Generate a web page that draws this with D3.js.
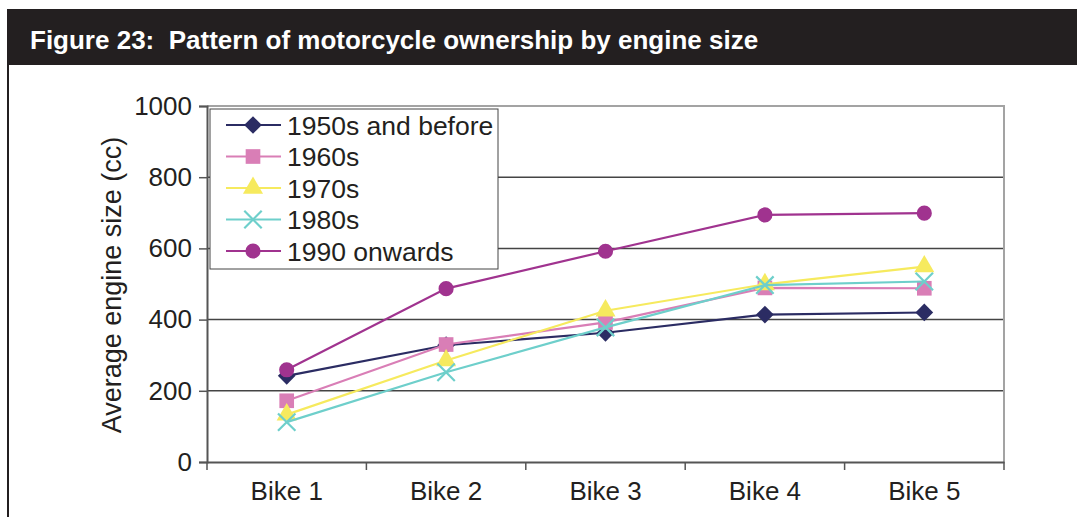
<html>
<head>
<script src="https://d3js.org/d3.v7.min.js"></script>
<style>
  body { margin: 0; background: #fff; }
  svg { font-family: "Liberation Sans", Arial, sans-serif; display: block; }
</style>
</head>
<body>
<svg id="chart"></svg>
<script>
const width = 1077, height = 517;

// data
const categories = ["Bike 1", "Bike 2", "Bike 3", "Bike 4", "Bike 5"];
const seriesNames = ["1950s and before", "1960s", "1970s", "1980s", "1990 onwards"];
const s1950 = [242, 328, 363, 414, 420];
const s1960 = [172, 330, 392, 489, 488];
const s1970 = [133, 285, 425, 499, 549];
const s1980 = [112, 252, 378, 497, 507];
const s1990 = [259, 487, 592, 694, 699];
const yTicks = [0, 200, 400, 600, 800, 1000];

const colors = ["#2b2c63", "#d97eb6", "#f6ea5e", "#6ecfcb", "#a0338f"];
const symbols = [d3.symbolDiamond2, d3.symbolSquare, d3.symbolTriangle, d3.symbolX, d3.symbolCircle];
const symbolSizes = [200, 215, 175, 200, 180];

const series = [s1950, s1960, s1970, s1980, s1990].map((v, i) => ({
    name: seriesNames[i], values: v, color: colors[i], symbol: symbols[i], size: symbolSizes[i]
}));

const svg = d3.select("#chart").attr("width", width).attr("height", height);

// title bar
svg.append("rect").attr("x", 7).attr("y", 9).attr("width", width - 7).attr("height", 56).attr("fill", "#231f20");
svg.append("text").attr("x", 30).attr("y", 49)
    .attr("fill", "#fff").attr("font-weight", "bold").style("font-size", "26px")
    .style("white-space", "pre")
    .text("Figure 23:  Pattern of motorcycle ownership by engine size");
svg.append("line").attr("x1", 8).attr("x2", 8).attr("y1", 65).attr("y2", height)
    .attr("stroke", "#231f20").attr("stroke-width", 2);

const plot = { left: 207, right: 1004, top: 106, bottom: 462 };

const x = d3.scaleBand().domain(categories).range([plot.left, plot.right]);
const y = d3.scaleLinear().domain([0, 1000]).range([plot.bottom, plot.top]);

// gridlines
svg.append("g").selectAll("line")
    .data(yTicks.filter(d => d > 0 && d < 1000))
    .join("line")
    .attr("x1", plot.left).attr("x2", plot.right)
    .attr("y1", d => y(d)).attr("y2", d => y(d))
    .attr("stroke", "#444").attr("stroke-width", 1.5);

// plot border (top + right)
svg.append("path")
    .attr("d", `M${plot.left},${plot.top}H${plot.right}V${plot.bottom}`)
    .attr("fill", "none").attr("stroke", "#a3a3a3").attr("stroke-width", 2);

// y axis
const yAxis = svg.append("g")
    .attr("transform", `translate(${plot.left},0)`)
    .call(d3.axisLeft(y).tickValues(yTicks).tickFormat(d3.format("d")).tickSize(8).tickPadding(7));
yAxis.select(".domain").attr("stroke", "#555").attr("stroke-width", 2);
yAxis.selectAll(".tick line").attr("stroke", "#555").attr("stroke-width", 1.5);
yAxis.selectAll("text").attr("fill", "#231f20").style("font-size", "26px")
    .attr("font-family", "Liberation Sans, Arial, sans-serif");

// x axis
const xAxis = svg.append("g")
    .attr("transform", `translate(0,${plot.bottom})`)
    .call(d3.axisBottom(x).tickSize(0).tickPadding(20));
xAxis.select(".domain").attr("stroke", "#555").attr("stroke-width", 2);
xAxis.selectAll("text").attr("fill", "#231f20").style("font-size", "26px")
    .attr("font-family", "Liberation Sans, Arial, sans-serif");
svg.append("g").selectAll("line")
    .data(categories.concat(["end"]))
    .join("line")
    .attr("x1", (d, i) => plot.left + i * x.bandwidth())
    .attr("x2", (d, i) => plot.left + i * x.bandwidth())
    .attr("y1", plot.bottom).attr("y2", plot.bottom + 8)
    .attr("stroke", "#555").attr("stroke-width", 1.5);

// y axis label
svg.append("text")
    .attr("transform", `translate(121,285) rotate(-90)`)
    .attr("text-anchor", "middle").attr("fill", "#231f20").style("font-size", "27px")
    .text("Average engine size (cc)");

// lines and markers
const line = d3.line().x((d, i) => x(categories[i]) + x.bandwidth() / 2).y(d => y(d));

function marker(sel, s, cx, cy) {
    const p = sel.append("path")
        .attr("transform", `translate(${cx},${cy})`)
        .attr("d", d3.symbol(s.symbol, s.size)());
    if (s.symbol === d3.symbolX) {
        p.attr("fill", "none").attr("stroke", s.color).attr("stroke-width", 2.2);
    } else {
        p.attr("fill", s.color);
    }
}

series.forEach(s => {
    const g = svg.append("g");
    g.append("path").datum(s.values)
        .attr("d", line).attr("fill", "none")
        .attr("stroke", s.color).attr("stroke-width", 2.2);
    s.values.forEach((v, i) => marker(g, s, x(categories[i]) + x.bandwidth() / 2, y(v)));
});

// legend
const legend = svg.append("g");
legend.append("rect").attr("x", 210).attr("y", 109).attr("width", 288).attr("height", 160)
    .attr("fill", "#fff").attr("stroke", "#444").attr("stroke-width", 1);
series.forEach((s, i) => {
    const ly = 125 + i * 31.5;
    legend.append("line").attr("x1", 226).attr("x2", 281).attr("y1", ly).attr("y2", ly)
        .attr("stroke", s.color).attr("stroke-width", 2.2);
    marker(legend, s, 253, ly);
    legend.append("text").attr("x", 287).attr("y", ly + 9.5)
        .attr("fill", "#231f20").style("font-size", "26.5px").text(s.name);
});
</script>
</body>
</html>
